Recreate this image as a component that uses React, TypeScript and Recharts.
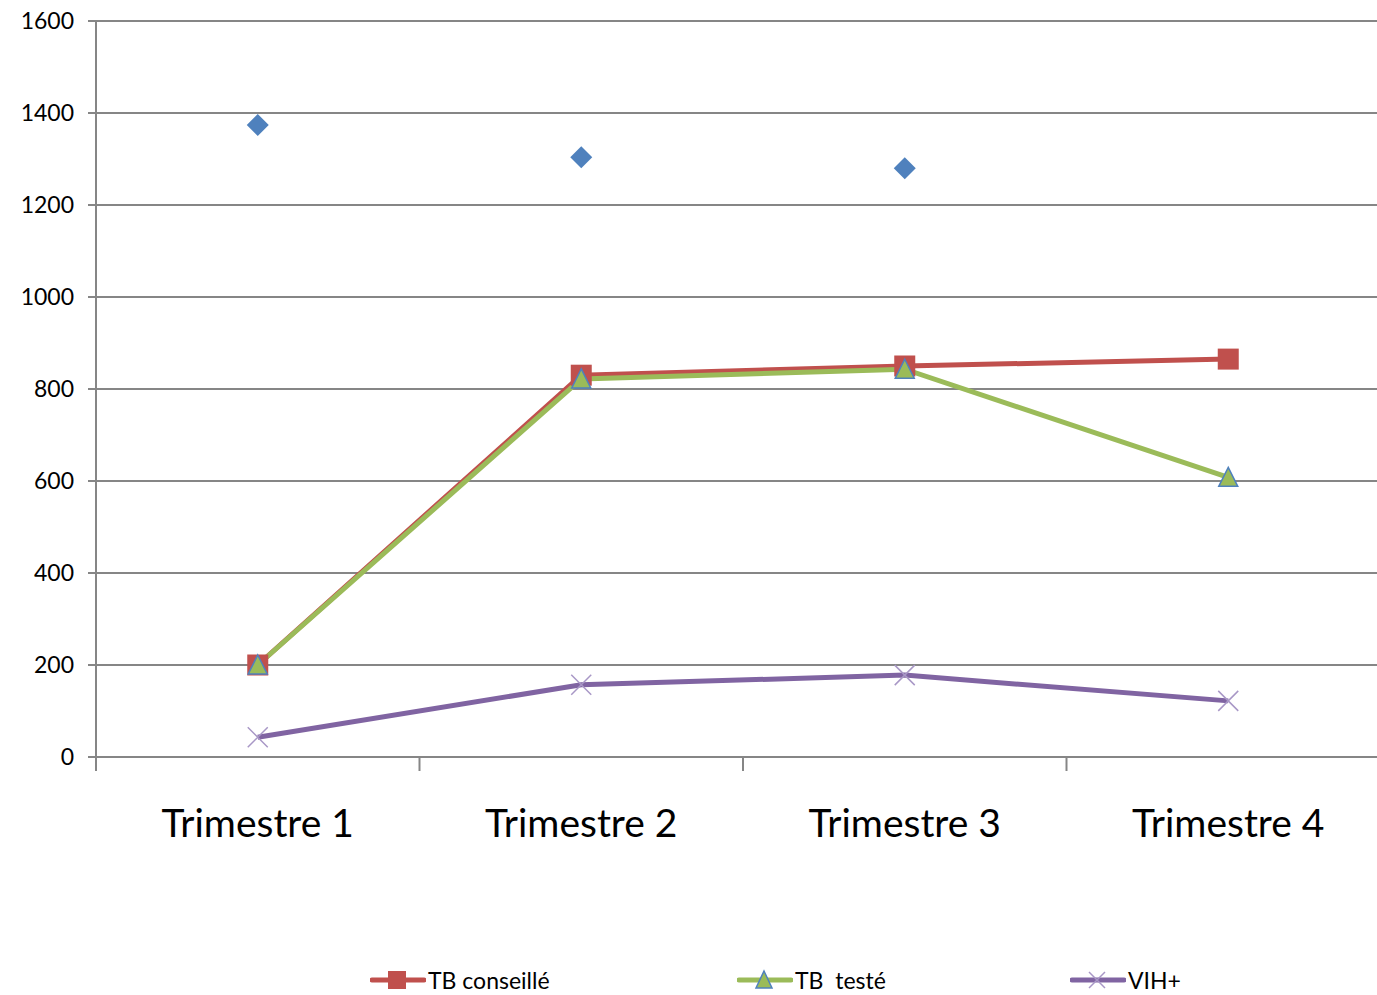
import React from 'react';
import { ComposedChart, Line, XAxis, YAxis, CartesianGrid, Legend } from 'recharts';

// categories and series values
const trimestres = ['Trimestre 1', 'Trimestre 2', 'Trimestre 3', 'Trimestre 4'];
const totalValues = [1374, 1304, 1280, null];
const tbConseille = [200, 830, 850, 865];
const tbTeste = [200, 822, 843, 608];
const vih = [43, 157, 178, 122];
const yTicks = [0, 200, 400, 600, 800, 1000, 1200, 1400, 1600];

const data = trimestres.map((name, i) => ({
  name,
  total: totalValues[i],
  conseille: tbConseille[i],
  teste: tbTeste[i],
  vih: vih[i],
}));

const GRID = '#868686';
const RED = '#C0504D';
const GREEN = '#9BBB59';
const PURPLE = '#8064A2';
const BLUE = '#4F81BD';
const FONT = 'Lato, "Open Sans", sans-serif';

const Diamond = (props: any) => {
  const { cx, cy, value } = props;
  if (value == null || cx == null) return null;
  const r = 11;
  return <path d={`M${cx},${cy - r}L${cx + r},${cy}L${cx},${cy + r}L${cx - r},${cy}Z`} fill={BLUE} />;
};

const Square = (props: any) => {
  const { cx, cy } = props;
  if (cx == null) return null;
  return <rect x={cx - 10.5} y={cy - 10.5} width={21} height={21} fill={RED} />;
};

const Triangle = (props: any) => {
  const { cx, cy } = props;
  if (cx == null) return null;
  return (
    <path
      d={`M${cx},${cy - 10}L${cx + 9.5},${cy + 9}L${cx - 9.5},${cy + 9}Z`}
      fill={GREEN}
      stroke={BLUE}
      strokeWidth={1.5}
    />
  );
};

const Cross = (props: any) => {
  const { cx, cy } = props;
  if (cx == null) return null;
  const r = 10;
  return (
    <path
      d={`M${cx - r},${cy - r}L${cx + r},${cy + r}M${cx + r},${cy - r}L${cx - r},${cy + r}`}
      stroke="#A897C6"
      strokeWidth={1.5}
      fill="none"
    />
  );
};

// category label plus a tick mark on the left boundary of the band
const XTick = (props: any) => {
  const { x, y, payload } = props;
  const off = payload.offset || 0;
  return (
    <g>
      <line x1={x - off} y1={y - 8} x2={x - off} y2={y + 6} stroke={GRID} strokeWidth={2} />
      <text x={x} y={y + 72} textAnchor="middle" fontSize={39} fill="#000" fontFamily={FONT}>
        {payload.value}
      </text>
    </g>
  );
};

const legendItems = [
  { label: 'TB conseillé', color: RED, marker: 'square', left: 370 },
  { label: 'TB  testé', color: GREEN, marker: 'triangle', left: 737 },
  { label: 'VIH+', color: PURPLE, marker: 'cross', left: 1070 },
];

const LegendContent = () => (
  <div style={{ position: 'relative', height: 30, width: 1400 }}>
    {legendItems.map((it) => (
      <div
        key={it.label}
        style={{ position: 'absolute', left: it.left, top: 0, height: 30, display: 'flex', alignItems: 'center' }}
      >
        <svg width={56} height={30}>
          <line x1={2} y1={15} x2={54} y2={15} stroke={it.color} strokeWidth={5} strokeLinecap="round" />
          {it.marker === 'square' && <rect x={18} y={6} width={18} height={18} fill={RED} />}
          {it.marker === 'triangle' && (
            <path d="M27,6L35,23L19,23Z" fill={GREEN} stroke={BLUE} strokeWidth={1.5} />
          )}
          {it.marker === 'cross' && (
            <path d="M19,7L35,23M35,7L19,23" stroke="#A897C6" strokeWidth={1.5} />
          )}
        </svg>
        <span style={{ fontFamily: FONT, fontSize: 23, color: '#000', marginLeft: 2, whiteSpace: 'pre' }}>
          {it.label}
        </span>
      </div>
    ))}
  </div>
);

const App = () => {
  return (
    <div style={{ position: 'fixed', left: 0, top: 0, width: 1377, height: 995, overflow: 'hidden', background: '#fff' }}>
      <ComposedChart width={1400} height={995} data={data} margin={{ top: 21, right: 10, left: 0, bottom: 0 }}>
        <CartesianGrid vertical={false} stroke={GRID} strokeWidth={2} />
        <XAxis
          dataKey="name"
          scale="band"
          height={208}
          stroke={GRID}
          strokeWidth={2}
          tickLine={false}
          tick={<XTick />}
          interval={0}
        />
        <YAxis
          domain={[0, 1600]}
          ticks={yTicks}
          width={96}
          stroke={GRID}
          strokeWidth={2}
          tickSize={8}
          tickMargin={14}
          tick={{ fill: '#000', fontSize: 23, fontFamily: FONT }}
          interval={0}
        />
        <Legend verticalAlign="bottom" content={<LegendContent />} />
        <Line
          dataKey="total"
          stroke="none"
          dot={<Diamond />}
          activeDot={false}
          legendType="none"
          isAnimationActive={false}
        />
        <Line dataKey="conseille" stroke={RED} strokeWidth={5} dot={<Square />} isAnimationActive={false} />
        <Line dataKey="teste" stroke={GREEN} strokeWidth={5} dot={<Triangle />} isAnimationActive={false} />
        <Line dataKey="vih" stroke={PURPLE} strokeWidth={5} dot={<Cross />} isAnimationActive={false} />
      </ComposedChart>
    </div>
  );
};

export default App;
